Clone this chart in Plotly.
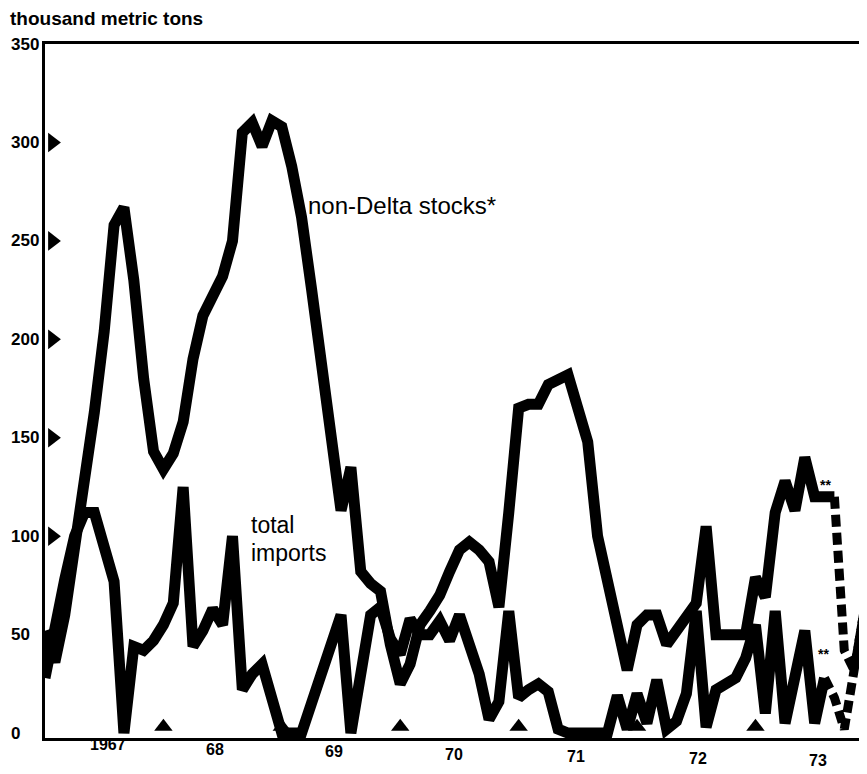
import plotly.graph_objects as go

# month index 0 = Jan 1967 ... 83 = Dec 1973
stocks = [52, 36, 60, 92, 125, 163, 204, 258, 267, 230,
          180, 143, 134, 142, 158, 190, 212, 222, 232, 250,
          305, 310, 298, 311, 308, 288, 262, 226, 190, 150,
          113, 135, 82, 76, 72, 45, 25, 35, 55, 62,
          70, 82, 93, 97, 93, 87, 64, 112, 165, 167,
          167, 177, 180, 182, 165, 148, 100, 78, 52, 32,
          55, 60, 60, 45, 52, 58, 66, 105, 50, 50,
          50, 50, 79, 69, 112, 128, 113, 140, 120, 120,
          120, 42, 32, 62]
imports = [28, 55, 78, 100, 112, 112, 95, 77, 0, 44,
           42, 47, 55, 66, 125, 44, 52, 63, 55, 100,
           22, 30, 35, 15, 0, 0, 0, 15, 30, 45,
           60, 0, 30, 60, 64, 48, 40, 58, 50, 50,
           57, 47, 60, 46, 30, 7, 16, 62, 18, 22,
           25, 21, 2, 0, 0, 0, 0, 0, 19, 2,
           20, 5, 27, 2, 6, 20, 62, 3, 22, 25,
           28, 38, 55, 10, 62, 5, 30, 52, 5, 28,
           18, 2, 35, 62]
months = list(range(len(stocks)))
stocks_solid_end = 80   # later points are estimates (dashed)
imports_solid_end = 79
year_labels = ["1967", "68", "69", "70", "71", "72", "73"]
year_label_pos = [6.4, 17.2, 29.3, 41.4, 53.8, 66.2, 78.3]
year_label_drop = [0, 5, 7, 10, 12, 14, 16]   # scan tilt of the label row
y_tick_values = [0, 50, 100, 150, 200, 250, 300, 350]
y_marker_values = [100, 150, 200, 250, 300]
year_boundaries = [12, 24, 36, 48, 60, 72]

FONT = "Liberation Sans"
fig = go.Figure()

def add_line(xs, ys, dashed=False):
    fig.add_trace(go.Scatter(
        x=xs, y=ys, mode="lines",
        line=dict(color="black", width=9 if dashed else 11,
                  dash="12px,6px" if dashed else "solid"),
        hoverinfo="skip", showlegend=False))

add_line(months[:stocks_solid_end + 1], stocks[:stocks_solid_end + 1])
add_line(months[stocks_solid_end:], stocks[stocks_solid_end:], dashed=True)
add_line(months[:imports_solid_end + 1], imports[:imports_solid_end + 1])
add_line(months[imports_solid_end:], imports[imports_solid_end:], dashed=True)

# axis triangles
fig.add_trace(go.Scatter(
    x=[0.75] * len(y_marker_values), y=y_marker_values, mode="markers",
    marker=dict(symbol="triangle-right", size=17, color="black"),
    cliponaxis=False, hoverinfo="skip", showlegend=False))
fig.add_trace(go.Scatter(
    x=year_boundaries, y=[3.2] * len(year_boundaries), mode="markers",
    marker=dict(symbol="triangle-up", size=16, color="black"),
    cliponaxis=False, hoverinfo="skip", showlegend=False))

annotations = []
for v in y_tick_values:
    annotations.append(dict(xref="paper", yref="y", x=0, y=v, xshift=-36,
                            xanchor="left", yanchor="middle", showarrow=False,
                            text=str(v),
                            font=dict(family=FONT, size=17, color="black", weight="bold")))
for lab, pos, drop in zip(year_labels, year_label_pos, year_label_drop):
    annotations.append(dict(xref="x", yref="paper", x=pos, y=0, yshift=4 - drop,
                            xanchor="center", yanchor="top", showarrow=False,
                            text=lab,
                            font=dict(family=FONT, size=16, color="black", weight="bold")))
annotations += [
    dict(xref="paper", yref="paper", x=0, y=1, xshift=-37, yshift=26,
         xanchor="left", yanchor="middle", showarrow=False,
         text="thousand metric tons",
         font=dict(family=FONT, size=19, color="black", weight="bold")),
    dict(xref="x", yref="y", x=26.5, y=268, xanchor="left", yanchor="middle",
         showarrow=False, text="non-Delta stocks*",
         font=dict(family=FONT, size=24, color="black")),
    dict(xref="x", yref="y", x=20.7, y=105.5, xanchor="left", yanchor="middle",
         showarrow=False, text="total",
         font=dict(family=FONT, size=23, color="black")),
    dict(xref="x", yref="y", x=20.7, y=91.5, xanchor="left", yanchor="middle",
         showarrow=False, text="imports",
         font=dict(family=FONT, size=23, color="black")),
    dict(xref="x", yref="y", x=79.1, y=126, xanchor="center", yanchor="middle",
         showarrow=False, text="**",
         font=dict(family=FONT, size=14, color="black", weight="bold")),
    dict(xref="x", yref="y", x=78.9, y=40, xanchor="center", yanchor="middle",
         showarrow=False, text="**",
         font=dict(family=FONT, size=14, color="black", weight="bold")),
]

fig.update_layout(
    width=859, height=766,
    margin=dict(l=37, r=0, t=36, b=36),
    paper_bgcolor="white", plot_bgcolor="white",
    annotations=annotations,
    xaxis=dict(range=[0, 83], showgrid=False, zeroline=False, showticklabels=False,
               ticks="", showline=True, linecolor="black", linewidth=3, mirror=True),
    yaxis=dict(range=[-2.5, 350], showgrid=False, zeroline=False, showticklabels=False,
               ticks="", showline=True, linecolor="black", linewidth=3, mirror=True),
)
fig.write_html("out.html")
